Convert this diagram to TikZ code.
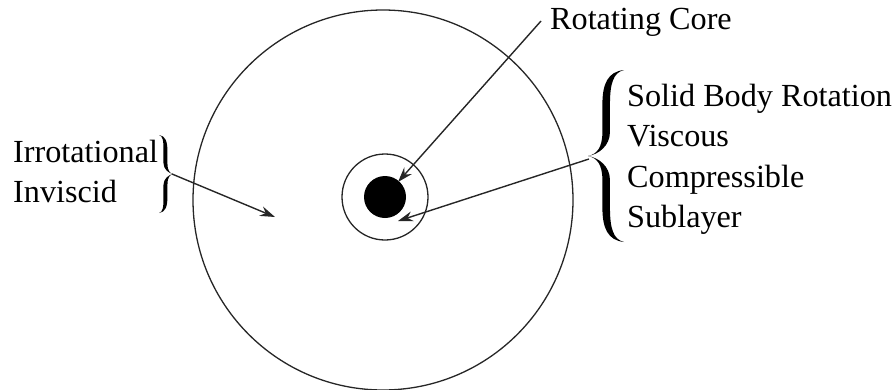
\documentclass[tikz,border=0pt]{standalone}
\usepackage{fontspec}
\setmainfont{LiberationSerif}[Extension=.ttf, UprightFont=*-Regular, BoldFont=*-Bold]
\usetikzlibrary{arrows.meta}
\tikzset{
  lbl/.style={anchor=base west, inner sep=0pt, font=\fontsize{32.2}{38}\selectfont},
  ring/.style={draw=black!85, line width=1.3pt},
  pointer/.style={draw=black!85, line width=1.4pt, -{Stealth[length=15pt, width=10pt, inset=5pt]}},
  bracefill/.style={fill=black, draw=none}
}
% brace shape "{" in unit box: tip at x=0, ends at x=1, y from 0 (top) to 1 (bottom)
\newcommand{\mybrace}[1]{%
  (1,0) .. controls (0.55,0.01) and (0.4,0.08) .. (0.4,0.2) -- (0.4,0.36)
  .. controls (0.4,0.45) and (0.25,0.49) .. (0,0.5)
  .. controls (0.25,0.51) and (0.4,0.55) .. (0.4,0.64) -- (0.4,0.8)
  .. controls (0.4,0.92) and (0.55,0.99) .. (1,1)
  .. controls (0.7,0.985) and (0.4+#1,0.92) .. (0.4+#1,0.8) -- (0.4+#1,0.64)
  .. controls (0.4+#1,0.56) and (0.3,0.51) .. (0,0.5)
  .. controls (0.3,0.49) and (0.4+#1,0.44) .. (0.4+#1,0.36) -- (0.4+#1,0.2)
  .. controls (0.4+#1,0.08) and (0.7,0.015) .. (1,0) -- cycle}
\begin{document}
\begin{tikzpicture}[x=1pt, y=-1pt]
\useasboundingbox (0,0) rectangle (895,389);
% circles
\node[ring, circle, minimum size=380pt, inner sep=0pt] (outer) at (383,200) {};
\node[ring, circle, minimum size=86pt, inner sep=0pt] (inner) at (385,197) {};
\node[fill=black, circle, minimum size=42pt, inner sep=0pt] (core) at (385,197) {};
% labels
\node[lbl] (rc) at (550,29) {Rotating Core};
\node[lbl] (l1) at (13,162) {Irrotational};
\node[lbl] (l2) at (13,202) {Inviscid};
\node[lbl] (r1) at (627,106) {Solid Body Rotation};
\node[lbl] (r2) at (627,146) {Viscous};
\node[lbl] (r3) at (627,187) {Compressible};
\node[lbl] (r4) at (627,227) {Sublayer};
% braces
\begin{scope}[shift={(588,70)}, xscale=36, yscale=172]
  \fill[bracefill] \mybrace{0.21};
\end{scope}
\begin{scope}[shift={(173,135)}, xscale=-14, yscale=78]
  \fill[bracefill] \mybrace{0.28};
\end{scope}
% arrow endpoints
\coordinate (rcstart) at (541,21);
\coordinate (rctip) at (398,182);
\coordinate (rbstart) at (589,159);
\coordinate (rbtip) at (398,221);
\coordinate (lbstart) at (172,174);
\coordinate (lbtip) at (275,217);
\draw[pointer] (rcstart) -- (rctip);
\draw[pointer] (rbstart) -- (rbtip);
\draw[pointer] (lbstart) -- (lbtip);
\end{tikzpicture}
\end{document}
